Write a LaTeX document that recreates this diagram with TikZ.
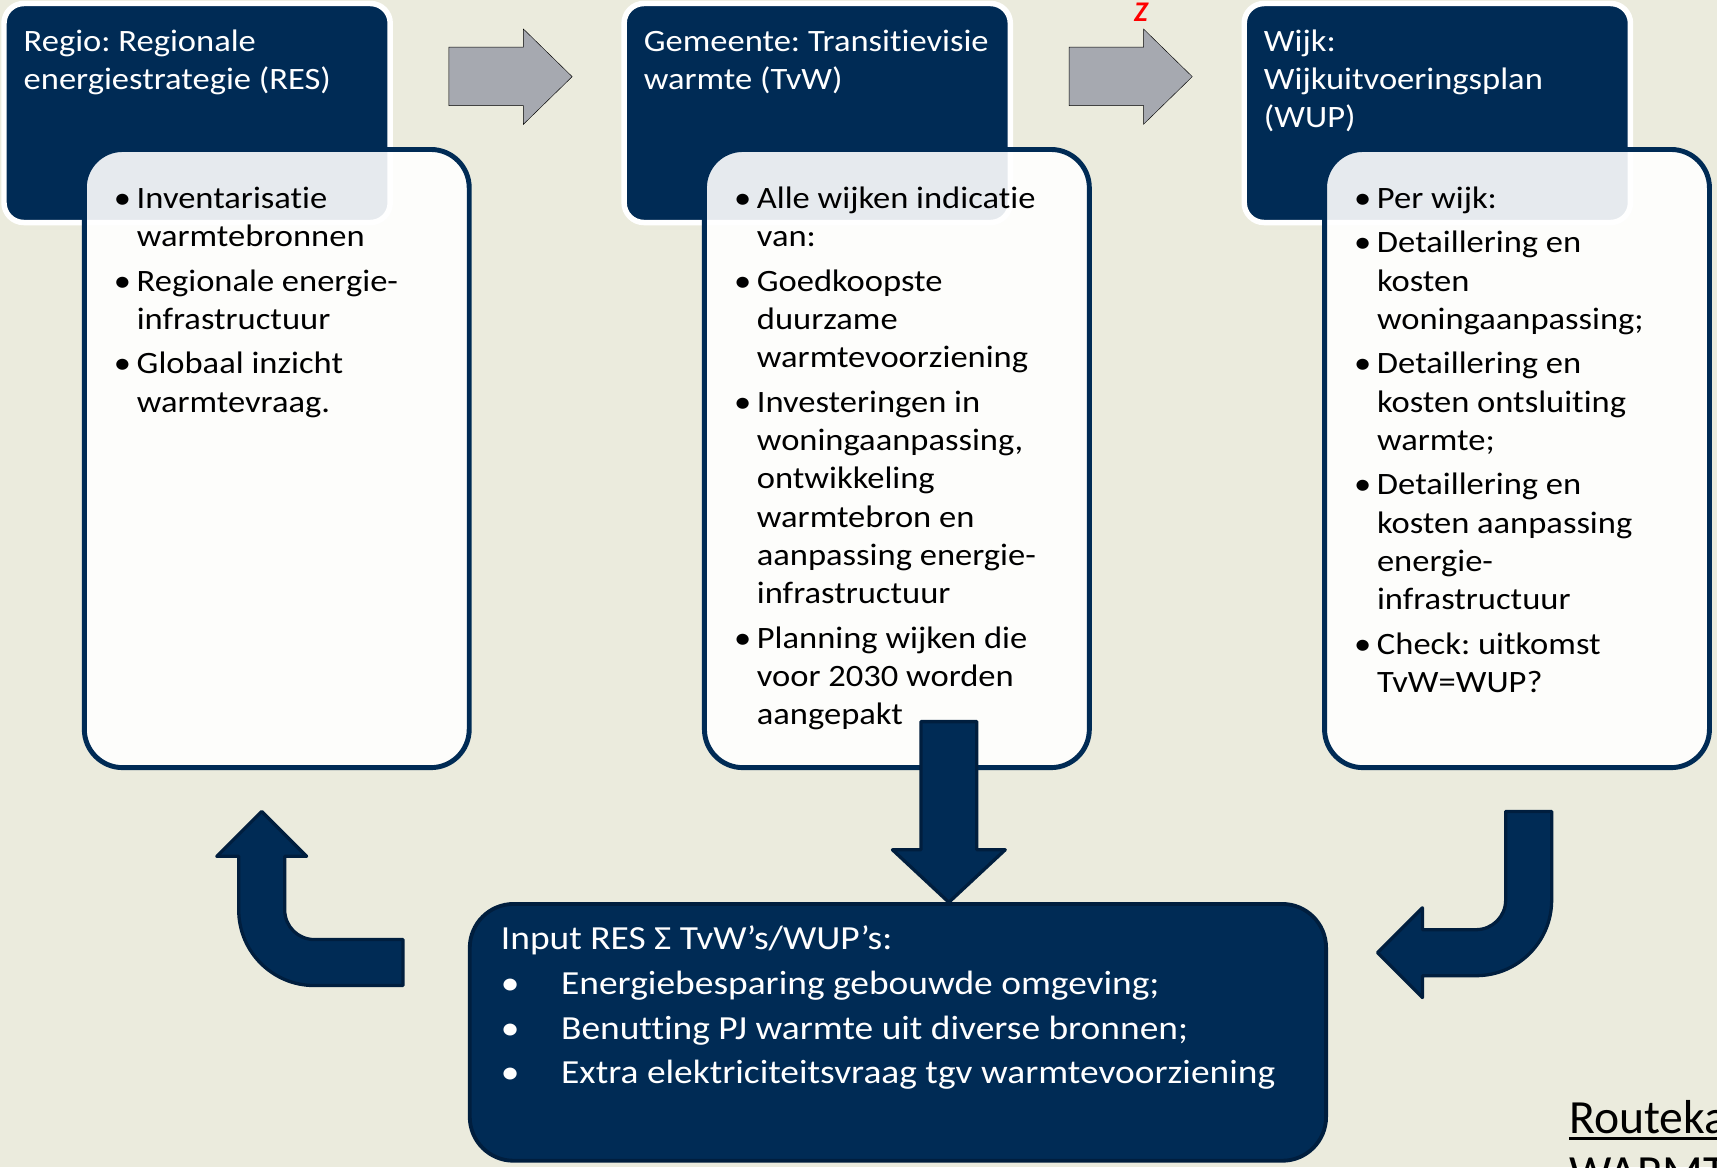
\documentclass[tikz,border=0pt]{standalone}
\usepackage{fontspec}
\setmainfont{Carlito}[FakeStretch=1.11, RawFeature={-liga;-clig;-calt;-dlig}]
\newfontfamily\captionfont{Carlito}[RawFeature={-liga;-clig;-calt;-dlig}]
\usetikzlibrary{calc}

\definecolor{navy}{RGB}{0,43,85}
\definecolor{navyline}{RGB}{0,30,62}
\definecolor{paper}{RGB}{235,235,221}
\definecolor{arrowgray}{RGB}{166,169,176}

% one bullet item with a hanging indent; lines are broken by hand
\newcommand{\bul}[1]{\par\hangindent=19.9pt\hangafter=1\noindent\makebox[19.9pt][l]{\hspace{-1pt}\textbullet}#1\par}

\tikzset{
  headbox/.style={draw=white, line width=5pt, fill=navy, rounded corners=18pt,
    minimum width=352.7pt, minimum height=200pt, anchor=north west, inner sep=0pt, outer sep=0pt},
  bodybox/.style={draw=navy, line width=4.5pt, fill=white, fill opacity=0.9, rounded corners=35pt,
    minimum width=351.5pt, minimum height=564.5pt, anchor=north west, inner sep=0pt, outer sep=0pt},
  resbox/.style={draw=navyline, line width=3.5pt, fill=navy, rounded corners=40pt,
    minimum width=782pt, minimum height=234.5pt, anchor=north west, inner sep=0pt, outer sep=0pt},
  headtext/.style={anchor=base west, inner sep=0pt, outer sep=0pt, text=white,
    font=\fontsize{28.4}{34.4}\selectfont\frenchspacing},
  listtext/.style={anchor=base west, inner sep=0pt, outer sep=0pt, text=black,
    font=\fontsize{28.4}{35}\selectfont\frenchspacing},
  restext/.style={anchor=base west, inner sep=0pt, outer sep=0pt, text=white,
    font=\fontsize{30.8}{40.8}\selectfont\frenchspacing},
  grayarrow/.style={fill=arrowgray},
  navyarrow/.style={fill=navy, draw=navyline, line width=3pt, line join=round},
}

\begin{document}
\begin{tikzpicture}[x=1pt,y=-1pt]
\path[use as bounding box, fill=paper] (0,0) rectangle (1568,1066);
\clip (0,0) rectangle (1568,1066);

% stage headers
\node[headbox] (h1) at (3.65,3.2) {};
\node[headbox] (h2) at (569.95,3.2) {};
\node[headbox] (h3) at (1136.25,3.2) {};

% stage contents, partly covering the headers
\node[bodybox] (b1) at (77,136.5) {};
\node[bodybox] (b2) at (643.3,136.5) {};
\node[bodybox] (b3) at (1209.6,136.5) {};

% grey arrows between the stages
\draw[grayarrow] (410,43) -- (478,43) -- (478,26.5) -- (522.5,70) -- (478,113.5) -- (478,96.5) -- (410,96.5) -- cycle;
\draw[grayarrow] (976.3,43) -- (1044.3,43) -- (1044.3,26.5) -- (1088.8,70) -- (1044.3,113.5) -- (1044.3,96.5) -- (976.3,96.5) -- cycle;
\node[text=red, inner sep=0pt, anchor=base, font=\captionfont\fontsize{26}{26}\selectfont\bfseries\itshape] (zmark) at (1042,20) {Z};

% navy arrows around the summary box
\draw[navyarrow] (841,659) -- (892,659) -- (892,776) -- (918,776) -- (866.5,824) -- (815,776) -- (841,776) -- cycle;
\draw[navyarrow] (239,741) -- (280,782) -- (260,782) -- (260,831)
  .. controls (260,845.9) and (272.1,858) .. (287,858) -- (368,858) -- (368,900) -- (287,900)
  .. controls (248.9,900) and (218,869.1) .. (218,831) -- (218,782) -- (198,782) -- cycle;
\draw[navyarrow] (1375,741) -- (1417,741) -- (1417,822)
  .. controls (1417,860.1) and (1386.1,891) .. (1348,891) -- (1299,891) -- (1299,911) -- (1258,870)
  -- (1299,829) -- (1299,849) -- (1348,849)
  .. controls (1362.9,849) and (1375,836.9) .. (1375,822) -- cycle;

% summary box
\node[resbox] (res) at (429,825.5) {};

% header titles
\node[headtext] (h1t) at ($(h1.north west)+(18,44)$) {\parbox[t]{400pt}{Regio: Regionale\newline energiestrategie (RES)}};
\node[headtext] (h2t) at ($(h2.north west)+(18,44)$) {\parbox[t]{400pt}{Gemeente: Transitievisie\newline warmte (TvW)}};
\node[headtext] (h3t) at ($(h3.north west)+(18,44)$) {\parbox[t]{400pt}{Wijk:\newline Wijkuitvoeringsplan\newline (WUP)}};

% bullet lists
\node[listtext] (b1t) at ($(b1.north west)+(28,53.8)$) {\parbox[t]{400pt}{\setlength\parskip{5.5pt}%
  \bul{Inventarisatie\newline warmtebronnen}%
  \bul{Regionale energie-\newline infrastructuur}%
  \bul{Globaal inzicht\newline warmtevraag.}}};
\node[listtext] (b2t) at ($(b2.north west)+(28,53.8)$) {\parbox[t]{400pt}{\setlength\parskip{5.5pt}%
  \bul{Alle wijken indicatie\newline van:}%
  \bul{Goedkoopste\newline duurzame\newline warmtevoorziening}%
  \bul{Investeringen in\newline woningaanpassing,\newline ontwikkeling\newline warmtebron en\newline aanpassing energie-\newline infrastructuur}%
  \bul{Planning wijken die\newline voor 2030 worden\newline aangepakt}}};
\node[listtext] (b3t) at ($(b3.north west)+(28,53.8)$) {\parbox[t]{400pt}{\setlength\parskip{5.5pt}%
  \bul{Per wijk:}%
  \bul{Detaillering en\newline kosten\newline woningaanpassing;}%
  \bul{Detaillering en\newline kosten ontsluiting\newline warmte;}%
  \bul{Detaillering en\newline kosten aanpassing\newline energie-\newline infrastructuur}%
  \bul{Check: uitkomst\newline TvW=WUP?}}};

% summary text
\node[restext] (rest) at ($(res.north west)+(28.5,42)$) {\parbox[t]{850pt}{Input RES Σ TvW’s/WUP’s:\newline
  \makebox[55pt][l]{\textbullet}Energiebesparing gebouwde omgeving;\newline
  \makebox[55pt][l]{\textbullet}Benutting PJ warmte uit diverse bronnen;\newline
  \makebox[55pt][l]{\textbullet}Extra elektriciteitsvraag tgv warmtevoorziening}};

% caption in the corner
\node[anchor=base west, inner sep=0pt, outer sep=0pt, font=\captionfont\fontsize{43.5}{50}\selectfont] (rk) at (1433,1035) {\parbox[t]{400pt}{Routekaart\newline WARMTE}};
\draw[line width=2.5pt] ($(rk.base west)+(0,5)$) -- ++(200,0);
\end{tikzpicture}
\end{document}
